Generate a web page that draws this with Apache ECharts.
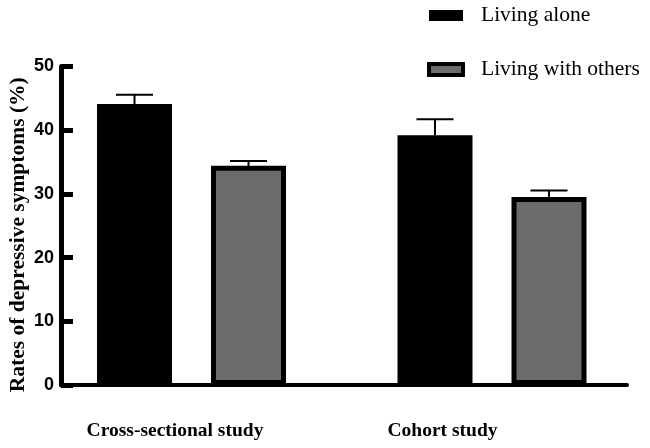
<!DOCTYPE html>
<html>
<head>
<meta charset="utf-8">
<script src="https://cdn.jsdelivr.net/npm/echarts@6/dist/echarts.min.js"></script>
<style>html,body{margin:0;padding:0;background:#fff;}#c{width:650px;height:448px;}</style>
</head>
<body>
<div id="c"></div>
<script>
const categories = ['Cross-sectional study', 'Cohort study'];
const seriesNames = ['Living alone', 'Living with others'];
const livingAlone = [44.1, 39.2];
const livingAloneErr = [1.45, 2.5];
const livingWithOthers = [34.4, 29.5];
const livingWithOthersErr = [0.75, 1.05];
const yTicks = { min: 0, max: 50, interval: 10 };

const serif = "'Times New Roman', 'Liberation Serif', serif";
const sans = "Arial, 'Liberation Sans', sans-serif";
const BAR_W = 75, BAR_GAP = 39;
const OFF = (BAR_W + BAR_GAP) / 2;
const GRAY = '#6b6b6b';
const GRID_TOP = 66.5, GRID_BOTTOM = 63;

function errItem(offset) {
  return function (params, api) {
    const cx = api.coord([api.value(0), 0])[0] + offset;
    const yBase = api.coord([api.value(0), api.value(1)])[1];
    const yTop = api.coord([api.value(0), api.value(1) + api.value(2)])[1];
    return {
      type: 'group',
      children: [
        { type: 'line', shape: { x1: cx, y1: yBase, x2: cx, y2: yTop }, style: { stroke: '#000', lineWidth: 2 } },
        { type: 'line', shape: { x1: cx - 18.5, y1: yTop, x2: cx + 18.5, y2: yTop }, style: { stroke: '#000', lineWidth: 2 } }
      ]
    };
  };
}

const chart = echarts.init(document.getElementById('c'), null, { renderer: 'canvas' });
chart.setOption({
  animation: false,
  backgroundColor: '#fff',
  legend: {
    orient: 'vertical', left: 427, top: 4, padding: 0,
    itemWidth: 34, itemHeight: 11, itemGap: 31,
    textStyle: { fontFamily: serif, fontSize: 21.5, color: '#000', padding: [0, 0, 0, 13], lineHeight: 23 },
    data: [
      { name: seriesNames[0], icon: 'rect', itemStyle: { color: '#000', borderWidth: 0 } },
      { name: seriesNames[1], icon: 'rect', itemStyle: { color: GRAY, borderColor: '#000', borderWidth: 4 } }
    ]
  },
  grid: [
    { left: 41.25, width: 601, top: GRID_TOP, bottom: GRID_BOTTOM, outerBoundsMode: 'none', containLabel: false },
    { left: 61, right: 23, top: GRID_TOP, bottom: GRID_BOTTOM, outerBoundsMode: 'none', containLabel: false },
    { left: 41.25, width: 535, top: GRID_TOP, bottom: GRID_BOTTOM, outerBoundsMode: 'none', containLabel: false }
  ],
  xAxis: [
    { gridIndex: 0, type: 'category', data: categories, axisLine: { show: false }, axisTick: { show: false }, axisLabel: { show: false } },
    { gridIndex: 1, type: 'category', data: categories, axisLine: { show: true, lineStyle: { color: '#000', width: 4 } }, axisTick: { show: false }, axisLabel: { show: false } },
    { gridIndex: 2, type: 'category', data: categories, axisLine: { show: false }, axisTick: { show: false },
      axisLabel: { show: true, margin: 36, fontFamily: serif, fontWeight: 'bold', fontSize: 19.5, color: '#000' } }
  ],
  yAxis: [
    { gridIndex: 0, type: 'value', min: yTicks.min, max: yTicks.max, interval: yTicks.interval, show: false, splitLine: { show: false } },
    { gridIndex: 1, type: 'value', min: yTicks.min, max: yTicks.max, interval: yTicks.interval,
      name: 'Rates of depressive symptoms (%)', nameLocation: 'middle', nameGap: 32, nameMoveOverlap: false,
      nameTextStyle: { fontFamily: serif, fontWeight: 'bold', fontSize: 21.5, color: '#000', padding: [0, 18, 0, 0] },
      axisLine: { show: true, lineStyle: { color: '#000', width: 5 } },
      axisTick: { show: true, inside: true, length: 12, lineStyle: { color: '#000', width: 5 } },
      axisLabel: { fontFamily: sans, fontWeight: 'bold', fontSize: 18, color: '#000', margin: 7 },
      splitLine: { show: false } },
    { gridIndex: 2, type: 'value', min: yTicks.min, max: yTicks.max, show: false, splitLine: { show: false } }
  ],
  series: [
    { name: seriesNames[0], type: 'bar', xAxisIndex: 0, yAxisIndex: 0, data: livingAlone,
      barWidth: BAR_W, barGap: (BAR_GAP / BAR_W * 100) + '%',
      itemStyle: { color: '#000', borderColor: '#000', borderWidth: 5 } },
    { name: seriesNames[1], type: 'bar', xAxisIndex: 0, yAxisIndex: 0, data: livingWithOthers,
      barWidth: BAR_W, barGap: (BAR_GAP / BAR_W * 100) + '%',
      itemStyle: { color: GRAY, borderColor: '#000', borderWidth: 5 } },
    { type: 'custom', xAxisIndex: 0, yAxisIndex: 0, renderItem: errItem(-OFF), encode: { x: 0, y: 1 },
      data: livingAlone.map((v, i) => [i, v, livingAloneErr[i]]), z: 3 },
    { type: 'custom', xAxisIndex: 0, yAxisIndex: 0, renderItem: errItem(OFF), encode: { x: 0, y: 1 },
      data: livingWithOthers.map((v, i) => [i, v, livingWithOthersErr[i]]), z: 3 }
  ]
});
</script>
</body>
</html>
